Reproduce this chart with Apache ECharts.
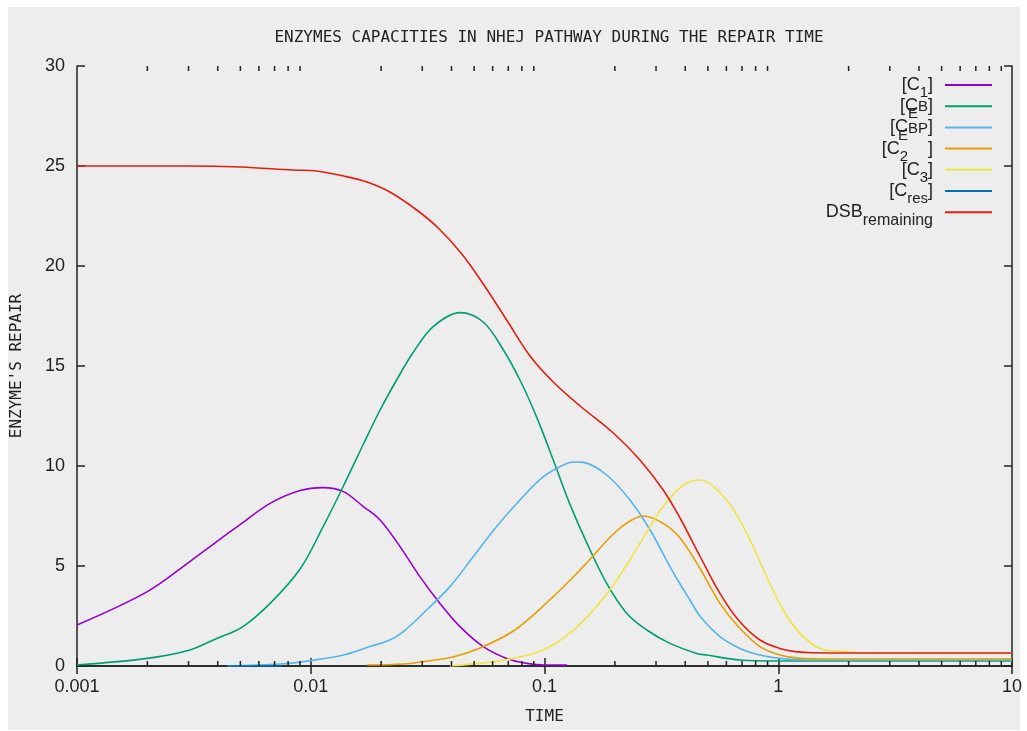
<!DOCTYPE html>
<html>
<head>
<meta charset="utf-8">
<title>Enzymes capacities in NHEJ pathway</title>
<script src="https://cdn.jsdelivr.net/npm/echarts@6.0.0/dist/echarts.min.js"></script>
<style>
  html, body { margin: 0; padding: 0; background: #fff; }
  #bg { position: absolute; left: 8px; top: 7px; width: 1012px; height: 723px; background: #ededed; }
  #main { position: absolute; left: 0; top: 0; width: 1027px; height: 731px; }
</style>
</head>
<body>
<div id="bg"></div>
<div id="main"></div>
<script>
// values: [time, capacity]
var c1 = [[0.001,2.05],[0.002,3.72],[0.00304,5.22],[0.00396,6.22],[0.00507,7.13],[0.0067,8.13],[0.009,8.77],
  [0.0113,8.92],[0.0138,8.72],[0.0168,7.97],[0.0198,7.3],[0.0241,5.97],[0.0293,4.47],[0.0357,3.13],
  [0.0435,1.97],[0.0547,0.97],[0.0689,0.38],[0.084,0.13],[0.1,0.05],[0.125,0.05]];
var cE = [[0.001,0.05],[0.002,0.38],[0.00304,0.8],[0.00396,1.38],[0.00507,1.93],[0.0067,3.13],[0.009,4.85],
  [0.0113,6.97],[0.0138,9.0],[0.0168,11.1],[0.0198,12.8],[0.0233,14.3],[0.0275,15.7],[0.0334,16.97],
  [0.0435,17.67],[0.0547,17.2],[0.0667,15.8],[0.0785,14.3],[0.0924,12.47],[0.109,10.3],[0.128,8.13],
  [0.152,6.13],[0.1845,4.13],[0.225,2.63],[0.274,1.8],[0.344,1.13],[0.448,0.63],[0.494,0.55],
  [0.686,0.3],[1,0.25],[10,0.25]];
var cBP = [[0.0044,0],[0.0074,0.1],[0.01,0.27],[0.0138,0.55],[0.0179,0.97],[0.0218,1.3],[0.0249,1.72],
  [0.0313,2.8],[0.0394,3.97],[0.0496,5.47],[0.0624,6.97],[0.0785,8.3],[0.099,9.47],[0.1245,10.13],
  [0.1375,10.2],[0.147,10.18],[0.1845,9.55],[0.232,8.3],[0.283,6.8],[0.344,4.97],[0.38,4.1],
  [0.419,3.3],[0.464,2.47],[0.563,1.47],[0.686,0.88],[0.835,0.55],[1.02,0.38],[1.3,0.3],[10,0.3]];
var c2 = [[0.0174,0.05],[0.025,0.1],[0.0302,0.22],[0.0406,0.45],[0.053,0.9],[0.0736,1.75],[0.102,3.15],
  [0.142,4.8],[0.197,6.6],[0.232,7.25],[0.265,7.5],[0.322,7.13],[0.38,6.4],[0.464,4.85],[0.563,3.13],
  [0.675,1.97],[0.835,0.97],[1.017,0.55],[1.24,0.38],[1.6,0.35],[10,0.35]];
var c3 = [[0.0394,0],[0.0566,0.17],[0.0736,0.38],[0.099,0.8],[0.128,1.63],[0.162,2.8],[0.204,4.3],
  [0.256,6.13],[0.322,7.97],[0.393,9.05],[0.46,9.3],[0.601,8.3],[0.733,6.63],[0.892,4.47],[1.05,2.8],
  [1.24,1.63],[1.51,0.88],[1.96,0.72],[2.2,0.66],[10,0.65]];
var cRes = [[0.0044,0],[0.0075,0]];
var dsb = [[0.001,25],[0.003,25],[0.005,24.95],[0.0084,24.8],[0.0106,24.75],[0.0138,24.5],[0.0174,24.2],
  [0.0218,23.7],[0.0284,22.8],[0.0351,21.9],[0.0443,20.6],[0.0547,19.1],[0.0689,17.3],[0.0867,15.5],
  [0.109,14.2],[0.142,13.0],[0.197,11.65],[0.256,10.3],[0.322,8.8],[0.38,7.4],[0.462,5.5],[0.563,3.63],
  [0.675,2.3],[0.835,1.3],[1.017,0.88],[1.18,0.72],[1.4,0.66],[2,0.65],[10,0.65]];

var names = ['[C1]', '[CE]', '[CBP]', '[C2]', '[C3]', '[Cres]', 'DSBremaining'];
var colors = ['#9400d3', '#009e73', '#56b4e9', '#e69f00', '#f0e442', '#0072b2', '#e51e10'];
var lists = [c1, cE, cBP, c2, c3, cRes, dsb];

// legend labels with subscripts (gnuplot look)
var legendText = {
  '[C1]': '{m|[C}{s|1}{e|]}',
  '[CE]': '{m|[C}{z|E}{b|B}{e|]}',
  '[CBP]': '{m|[C}{z|E}{b|BP}{e|]}',
  '[C2]': '{m|[C}{s|2}{e|    ]}',
  '[C3]': '{m|[C}{s|3}{e|]}',
  '[Cres]': '{m|[C}{s|res}{e|]}',
  'DSBremaining': '{m|DSB}{se|remaining}'
};

// minor ticks of the log axis: 2..9 in each decade
var minorTicks = [];
[0.001, 0.01, 0.1, 1].forEach(function (d) {
  for (var k = 2; k <= 9; k++) minorTicks.push([+(d * k).toPrecision(2), 0]);
});

var axisColor = '#222';
var labelFont = { fontFamily: 'Liberation Sans', fontSize: 18, color: '#222' };
var monoFont = { fontFamily: 'DejaVu Sans Mono', fontSize: 16, color: '#222', fontWeight: 'normal' };
var subStyle = { fontFamily: 'Liberation Sans', fontSize: 15, color: '#222', padding: [16, 0, 0, 0] };

var series = names.map(function (n, i) {
  return {
    name: n, type: 'line', data: lists[i],
    symbol: 'none', smooth: 0.35,
    lineStyle: { color: colors[i], width: 1.6 },
    itemStyle: { color: colors[i] },
    z: 2 + i
  };
});
series.push({
  type: 'custom', data: minorTicks, silent: true, clip: false, z: 20,
  renderItem: function (params, api) {
    var x = api.value(0);
    var b = api.coord([x, 0]);
    var t = api.coord([x, 30]);
    var st = { stroke: axisColor, lineWidth: 1.5 };
    return {
      type: 'group', children: [
        { type: 'line', shape: { x1: b[0], y1: b[1], x2: b[0], y2: b[1] - 5 }, style: st },
        { type: 'line', shape: { x1: t[0], y1: t[1], x2: t[0], y2: t[1] + 5 }, style: st }
      ]
    };
  }
});

var myChart = echarts.init(document.getElementById('main'));
var option = {
  animation: false,
  title: {
    text: 'ENZYMES CAPACITIES IN NHEJ PATHWAY DURING THE REPAIR TIME',
    left: 544, top: 25, textAlign: 'center',
    textStyle: monoFont
  },
  grid: { left: 77, right: 15, top: 66, bottom: 65 },
  legend: {
    data: names, orient: 'vertical', align: 'right',
    right: 35, top: 76, padding: 0, itemGap: -3.3,
    icon: 'rect', itemWidth: 47, itemHeight: 2,
    formatter: function (name) { return legendText[name]; },
    textStyle: {
      color: '#222',
      rich: {
        m: { fontFamily: 'Liberation Sans', fontSize: 18, color: '#222' },
        e: { fontFamily: 'Liberation Sans', fontSize: 18, color: '#222', padding: [0, 7, 0, 0] },
        b: { fontFamily: 'Liberation Sans', fontSize: 15, color: '#222', padding: [2, 0, 0, 0] },
        s: subStyle,
        z: Object.assign({ width: 0.01 }, subStyle),
        se: { fontFamily: 'Liberation Sans', fontSize: 16, color: '#222', padding: [16, 7, 0, 0] }
      }
    }
  },
  xAxis: [{
    type: 'log', logBase: 10, min: 0.001, max: 10, position: 'bottom',
    name: 'TIME', nameLocation: 'middle', nameGap: 43, nameTextStyle: monoFont,
    axisLine: { lineStyle: { color: axisColor, width: 1.5 } },
    axisTick: { inside: true, length: 8, lineStyle: { color: axisColor, width: 1.5 } },
    axisLabel: Object.assign({ margin: 12, showMinLabel: true, showMaxLabel: true,
      formatter: function (v) { return String(+v.toPrecision(3)); } }, labelFont),
    splitLine: { show: false }
  }, {
    type: 'log', logBase: 10, min: 0.001, max: 10, position: 'top',
    axisLine: { lineStyle: { color: axisColor, width: 1.5 } },
    axisTick: { inside: true, length: 8, lineStyle: { color: axisColor, width: 1.5 } },
    axisLabel: { show: false },
    splitLine: { show: false }
  }],
  yAxis: [{
    type: 'value', min: 0, max: 30, interval: 5, position: 'left',
    name: "ENZYME'S REPAIR", nameLocation: 'middle', nameGap: 52, nameTextStyle: monoFont,
    axisLine: { show: true, lineStyle: { color: axisColor, width: 1.5 } },
    axisTick: { show: true, inside: true, length: 8, lineStyle: { color: axisColor, width: 1.5 } },
    axisLabel: Object.assign({ margin: 12 }, labelFont),
    splitLine: { show: false }
  }, {
    type: 'value', min: 0, max: 30, interval: 5, position: 'right',
    axisLine: { show: true, lineStyle: { color: axisColor, width: 1.5 } },
    axisTick: { show: true, inside: true, length: 8, lineStyle: { color: axisColor, width: 1.5 } },
    axisLabel: { show: false },
    splitLine: { show: false }
  }],
  series: series
};
myChart.setOption(option);
</script>
</body>
</html>
